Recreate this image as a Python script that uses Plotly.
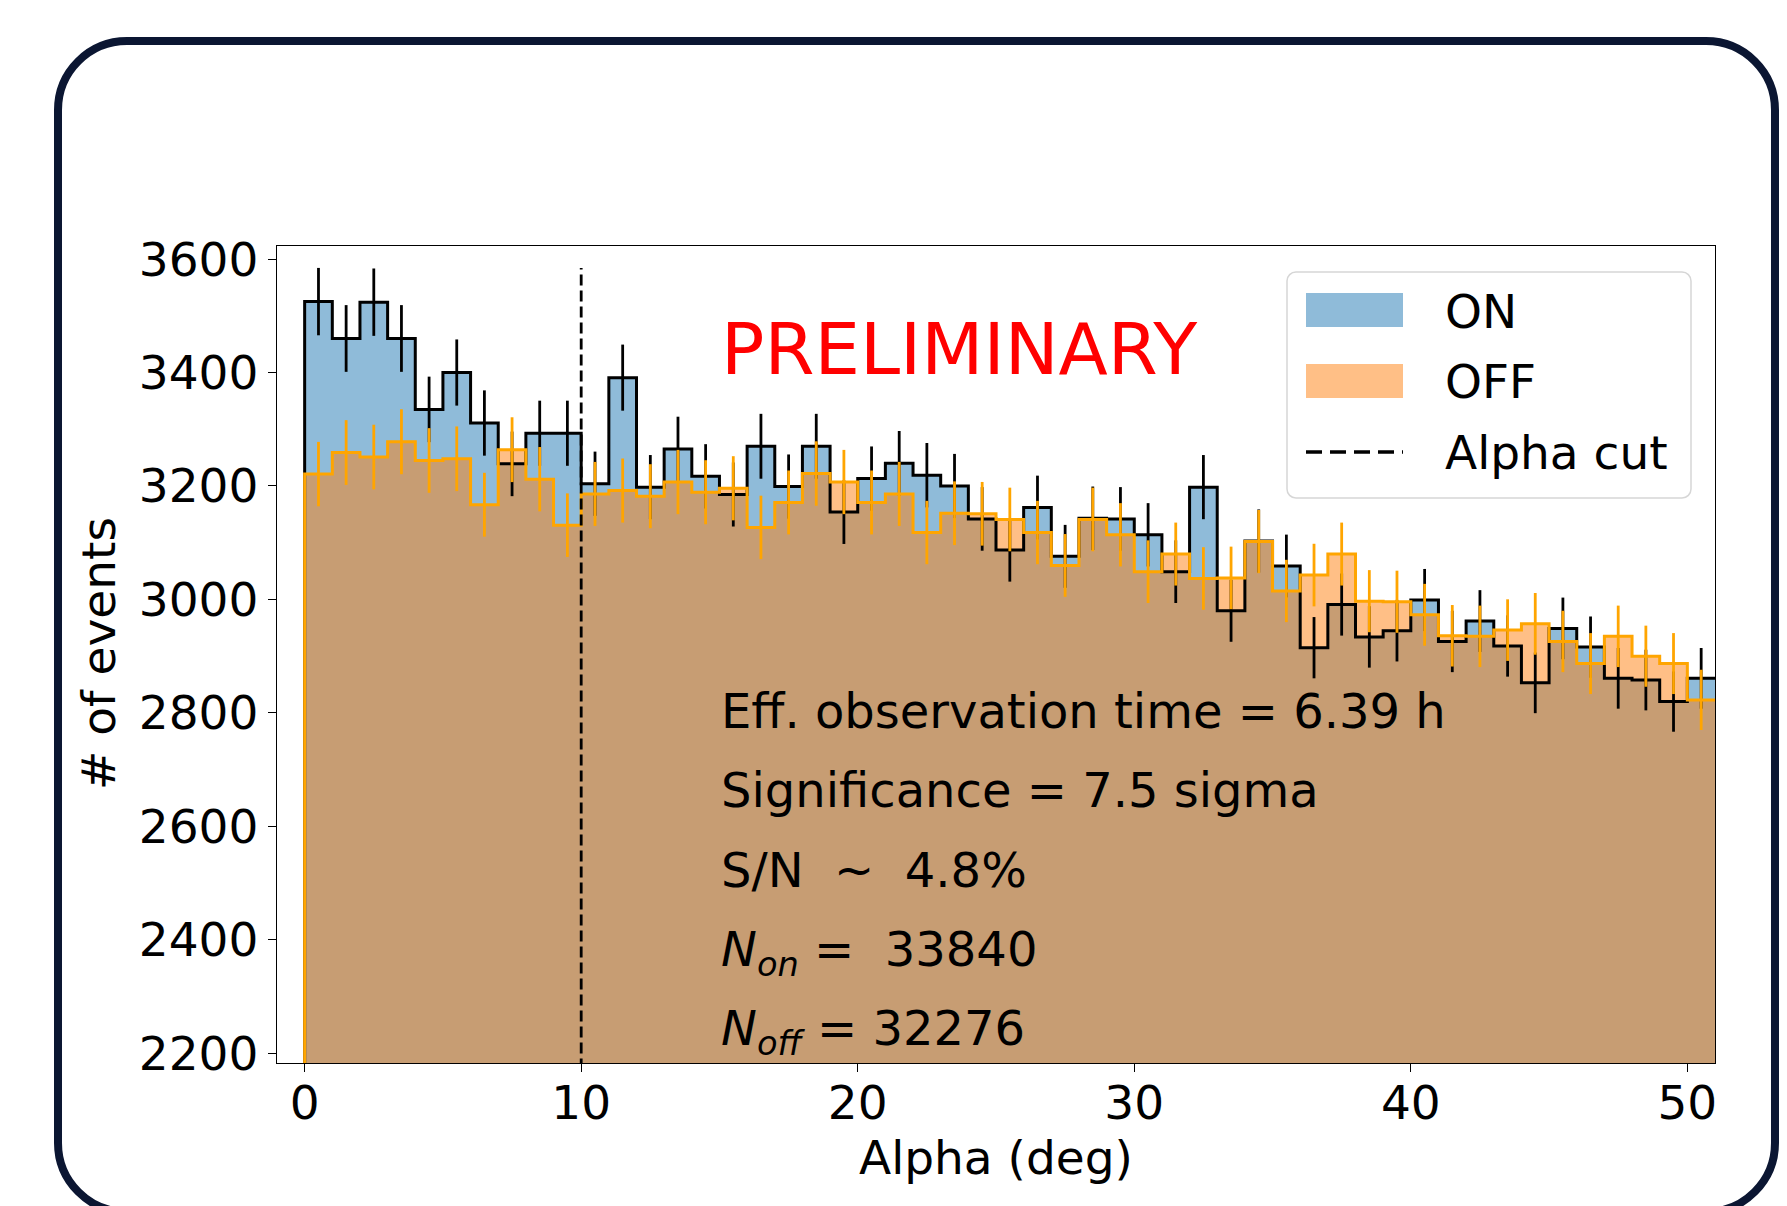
import numpy as np
import plotly.graph_objects as go

# ---------------- data ----------------
alpha_edges = list(range(0, 52))          # 1-degree bins from 0 to 51 deg
on_counts = [3525, 3460, 3524, 3460, 3335, 3400, 3311, 3239, 3293, 3293,
             3204, 3391, 3198, 3265, 3217, 3185, 3270, 3199, 3270, 3154,
             3213, 3240, 3219, 3200, 3142, 3087, 3162, 3076, 3143, 3142,
             3114, 3049, 3198, 2980, 3103, 3059, 2915, 2991, 2934, 2945,
             2999, 2926, 2962, 2918, 2853, 2949, 2916, 2861, 2858, 2820, 2861]
off_counts = [3221, 3259, 3251, 3278, 3245, 3248, 3167, 3264, 3212, 3131,
              3186, 3192, 3182, 3207, 3189, 3196, 3127, 3171, 3222, 3207,
              3171, 3186, 3118, 3152, 3151, 3141, 3118, 3060, 3141, 3114,
              3049, 3080, 3037, 3038, 3102, 3015, 3043, 3080, 2997, 2996,
              2973, 2936, 2935, 2946, 2957, 2926, 2887, 2935, 2900, 2887, 2823]
alpha_cut = 10
x_ticks = [0, 10, 20, 30, 40, 50]
y_ticks = [2200, 2400, 2600, 2800, 3000, 3200, 3400, 3600]
info_lines = [
    "Eff. observation time = 6.39 h",
    "Significance = 7.5 sigma",
    "S/N\u00a0 ~\u00a0 4.8%",
    "<i>N</i><sub><i>on</i></sub> =\u00a0 33840",
    "<i>N</i><sub><i>off</i></sub> = 32276",
]
legend_labels = ["ON", "OFF", "Alpha cut"]

# ---------------- geometry ----------------
W, H = 1787, 1206
PL, PR, PT, PB = 277, 1715, 246, 1063
XR = [-1, 51]
YR = [2183, 3623]
FONT = "DejaVu Sans"
FS = 47
FS_INFO = 48

def px2x(px):
    return XR[0] + (px - PL) / (PR - PL) * (XR[1] - XR[0])

def py2y(py):
    return YR[1] - (py - PT) / (PB - PT) * (YR[1] - YR[0])

def ppx(px):
    return (px - PL) / (PR - PL)

def ppy(py):
    return (PB - py) / (PB - PT)

def rounded_path(x0, y0, x1, y1, r):
    k = 0.5523 * r
    pts = [
        ("M", [(x0 + r, y0)]),
        ("L", [(x1 - r, y0)]),
        ("C", [(x1 - r + k, y0), (x1, y0 + r - k), (x1, y0 + r)]),
        ("L", [(x1, y1 - r)]),
        ("C", [(x1, y1 - r + k), (x1 - r + k, y1), (x1 - r, y1)]),
        ("L", [(x0 + r, y1)]),
        ("C", [(x0 + r - k, y1), (x0, y1 - r + k), (x0, y1 - r)]),
        ("L", [(x0, y0 + r)]),
        ("C", [(x0, y0 + r - k), (x0 + r - k, y0), (x0 + r, y0)]),
    ]
    s = ""
    for cmd, plist in pts:
        s += cmd + " ".join(f"{ppx(a):.5f},{ppy(b):.5f}" for a, b in plist) + " "
    return s + "Z"

on = np.array(on_counts, dtype=float)
off = np.array(off_counts, dtype=float)
edges = np.array(alpha_edges, dtype=float)
centers = (edges[:-1] + edges[1:]) / 2
on_err = np.sqrt(on)
off_err = np.sqrt(off)

step_x = [edges[0]] + list(edges)
on_step_y = [0] + list(on) + [on[-1]]
off_step_y = [0] + list(off) + [off[-1]]

BLUE_FILL = "rgba(31,119,180,0.5)"
ORANGE_FILL = "rgba(255,127,14,0.5)"
ORANGE = "#ffa500"

fig = go.Figure()
fig.add_trace(go.Scatter(x=step_x, y=on_step_y, mode="lines", line=dict(width=0, shape="hv"),
                         fill="tozeroy", fillcolor=BLUE_FILL, hoverinfo="skip", name="ON"))
fig.add_trace(go.Scatter(x=step_x, y=off_step_y, mode="lines", line=dict(width=0, shape="hv"),
                         fill="tozeroy", fillcolor=ORANGE_FILL, hoverinfo="skip", name="OFF"))
fig.add_trace(go.Scatter(x=step_x, y=on_step_y, mode="lines",
                         line=dict(color="black", width=3, shape="hv"), name="ON"))
fig.add_trace(go.Scatter(x=centers, y=on, mode="markers", marker=dict(size=0, color="rgba(0,0,0,0)"),
                         error_y=dict(type="data", array=on_err, color="black", thickness=2.8, width=0),
                         name="ON"))
fig.add_trace(go.Scatter(x=step_x, y=off_step_y, mode="lines",
                         line=dict(color=ORANGE, width=3, shape="hv"), name="OFF"))
fig.add_trace(go.Scatter(x=centers, y=off, mode="markers", marker=dict(size=0, color="rgba(0,0,0,0)"),
                         error_y=dict(type="data", array=off_err, color=ORANGE, thickness=2.8, width=0),
                         name="OFF"))
cut_top = float(np.max(on + on_err))
fig.add_trace(go.Scatter(x=[alpha_cut, alpha_cut], y=[0, cut_top], mode="lines",
                         line=dict(color="black", width=2.8, dash="11px,5px"), name="Alpha cut"))

shapes = []
# outer rounded frame
shapes.append(dict(type="path", xref="paper", yref="paper", path=rounded_path(58, 41, 1775, 1212, 69),
                   line=dict(color="#0b1632", width=8), fillcolor="rgba(0,0,0,0)", layer="above"))
# legend box
shapes.append(dict(type="path", xref="paper", yref="paper", path=rounded_path(1287, 272, 1691, 498, 9),
                   line=dict(color="#d6d6d6", width=1.5), fillcolor="rgba(255,255,255,0.8)", layer="above"))
shapes.append(dict(type="rect", xref="paper", yref="paper", x0=ppx(1306), x1=ppx(1403), y0=ppy(293), y1=ppy(327),
                   fillcolor=BLUE_FILL, line=dict(width=0), layer="above"))
shapes.append(dict(type="rect", xref="paper", yref="paper", x0=ppx(1306), x1=ppx(1403), y0=ppy(364), y1=ppy(398),
                   fillcolor=ORANGE_FILL, line=dict(width=0), layer="above"))
shapes.append(dict(type="line", xref="paper", yref="paper", x0=ppx(1306), x1=ppx(1403), y0=ppy(452), y1=ppy(452),
                   line=dict(color="black", width=3.5, dash="16px,8px"), layer="above"))

annotations = []
for lab, yc in zip(legend_labels, [311, 381, 452]):
    annotations.append(dict(text=lab, xref="paper", yref="paper", x=ppx(1443), y=ppy(yc),
                            xanchor="left", yanchor="middle", showarrow=False,
                            font=dict(family=FONT, size=FS, color="black")))
annotations.append(dict(text="PRELIMINARY", xref="x", yref="y", x=15, y=py2y(374 - 0.346 * 72),
                        xanchor="left", yanchor="middle", showarrow=False,
                        font=dict(family=FONT, size=72, color="red")))
baselines = [728, 807, 887, 966, 1045]
for txt, bl in zip(info_lines, baselines):
    annotations.append(dict(text=txt, xref="x", yref="y", x=15, y=py2y(bl - 0.928 * FS_INFO - 2),
                            xanchor="left", yanchor="top", showarrow=False,
                            font=dict(family=FONT, size=FS_INFO, color="black")))
annotations.append(dict(text="# of events", xref="paper", yref="paper", x=ppx(98), y=ppy(654),
                        xanchor="center", yanchor="middle", textangle=-90, showarrow=False,
                        font=dict(family=FONT, size=FS, color="black")))
annotations.append(dict(text="Alpha (deg)", xref="paper", yref="paper", x=ppx(996), y=ppy(1157),
                        xanchor="center", yanchor="middle", showarrow=False,
                        font=dict(family=FONT, size=FS, color="black")))

axis_common = dict(showline=True, linecolor="black", linewidth=1.3, mirror=True,
                   ticks="outside", ticklen=8, tickwidth=1.3, tickcolor="black",
                   showgrid=False, zeroline=False,
                   tickfont=dict(family=FONT, size=FS, color="black"))

fig.update_layout(
    width=W, height=H, autosize=False,
    margin=dict(l=PL, r=W - PR, t=PT, b=H - PB, pad=0),
    paper_bgcolor="white", plot_bgcolor="white",
    showlegend=False,
    xaxis=dict(range=XR, tickvals=x_ticks, ticklabelstandoff=-10, **axis_common),
    yaxis=dict(range=YR, tickvals=y_ticks, **axis_common),
    shapes=shapes, annotations=annotations,
)

fig.write_html("out.html", config={"displayModeBar": False},
               post_script="document.body.style.margin='0';document.body.style.overflow='hidden';")
